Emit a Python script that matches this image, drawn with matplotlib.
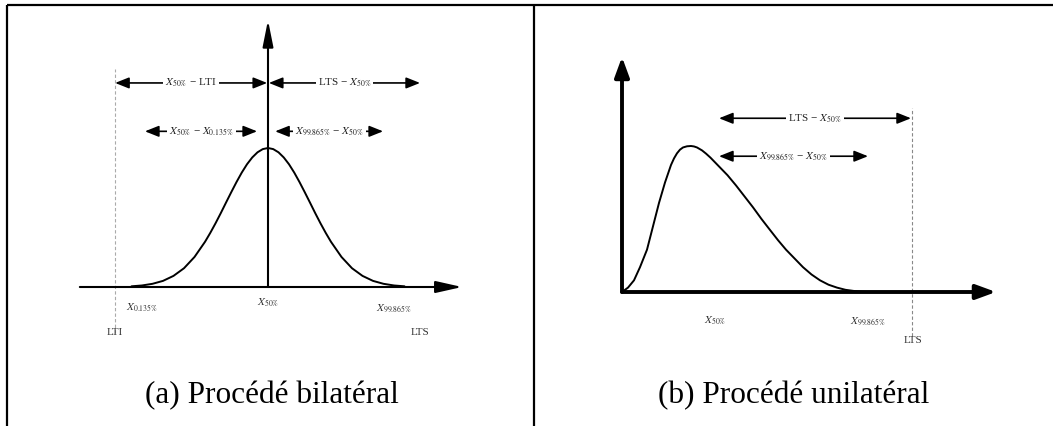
import matplotlib
matplotlib.use("Agg")
import matplotlib.pyplot as plt

plt.rcParams['mathtext.fontset'] = 'stix'
plt.rcParams['font.family'] = ['Liberation Serif', 'DejaVu Serif']

# ---------------- data ----------------
# (a) bilateral process: normal curve, x in sigma units, y relative height
gauss_x = [-3.25, -3.0, -2.75, -2.5, -2.25, -2.0, -1.75, -1.5, -1.375, -1.25, -1.125, -1.0, -0.875,
           -0.75, -0.625, -0.5, -0.375, -0.25, -0.125, 0.0, 0.125, 0.25, 0.375, 0.5, 0.625, 0.75,
           0.875, 1.0, 1.125, 1.25, 1.375, 1.5, 1.75, 2.0, 2.25, 2.5, 2.75, 3.0, 3.25]
gauss_y = [0.005, 0.011, 0.023, 0.044, 0.080, 0.135, 0.216, 0.325, 0.389, 0.458, 0.531, 0.607, 0.682,
           0.755, 0.823, 0.883, 0.932, 0.969, 0.992, 1.0, 0.992, 0.969, 0.932, 0.883, 0.823, 0.755,
           0.682, 0.607, 0.531, 0.458, 0.389, 0.325, 0.216, 0.135, 0.080, 0.044, 0.023, 0.011, 0.005]
a_lti, a_x0135, a_x50, a_x99865, a_lts = -3.64, -3.0, 0.0, 3.0, 3.62

# (b) unilateral process: skewed curve
skew_x = [0, 0.12, 0.24, 0.36, 0.5, 0.62, 0.74, 0.86, 0.98, 1.04, 1.1, 1.16, 1.22, 1.3, 1.38, 1.44,
          1.5, 1.6, 1.68, 1.77, 1.94, 2.11, 2.28, 2.45, 2.62, 2.79, 2.96, 3.12, 3.28, 3.45, 3.62,
          3.79, 3.96, 4.13, 4.3, 4.47, 4.64, 4.78, 4.92]
skew_y = [0, 0.03, 0.08, 0.17, 0.29, 0.45, 0.61, 0.75, 0.87, 0.915, 0.95, 0.975, 0.99, 0.998, 1.0, 0.997,
          0.99, 0.97, 0.948, 0.92, 0.86, 0.80, 0.73, 0.655, 0.58, 0.50, 0.425, 0.355, 0.29, 0.23, 0.17,
          0.12, 0.08, 0.05, 0.03, 0.015, 0.007, 0.002, 0.0]
b_x50, b_x99865, b_lts = 1.86, 4.92, 5.80

captions = ["(a) Procédé bilatéral", "(b) Procédé unilatéral"]

# ---------------- figure ----------------
W, H = 1053, 426
fig = plt.figure(figsize=(W / 100, H / 100), dpi=100)
fig.patch.set_facecolor('white')

frame = fig.add_axes([0, 0, 1, 1])
frame.set_xlim(0, W)
frame.set_ylim(H, 0)
frame.axis('off')
frame.plot([7, W], [5, 5], color='black', lw=1.6, solid_capstyle='butt')
frame.plot([7, 7], [5, H], color='black', lw=1.6, solid_capstyle='butt')
frame.plot([534, 534], [5, H], color='black', lw=1.6, solid_capstyle='butt')
frame.text(272, 403, captions[0], ha='center', va='baseline', fontsize=22.5,
           family='Liberation Serif')
frame.text(794, 403, captions[1], ha='center', va='baseline', fontsize=22.5,
           family='Liberation Serif')


def panel(box, origin, scale):
    px0, py0, px1, py1 = box
    ox, oy = origin
    sx, sy = scale
    ax = fig.add_axes([px0 / W, 1 - py1 / H, (px1 - px0) / W, (py1 - py0) / H])
    ax.set_xlim((px0 - ox) / sx, (px1 - ox) / sx)
    ax.set_ylim((oy - py1) / sy, (oy - py0) / sy)
    ax.axis('off')
    return ax


def axis_arrow(ax, x0, y0, x1, y1, lw, hl, hw):
    ax.annotate('', xy=(x1, y1), xytext=(x0, y0),
                arrowprops=dict(arrowstyle=f'-|>,head_length={hl},head_width={hw}',
                                mutation_scale=20, lw=lw, color='black',
                                shrinkA=0, shrinkB=0))


def dim(ax, x0, x1, y, label, lw=1.2, fs=8):
    ax.annotate('', xy=(x1, y), xytext=(x0, y),
                arrowprops=dict(arrowstyle='<|-|>,head_length=0.6,head_width=0.24',
                                mutation_scale=14, lw=lw, color='black',
                                shrinkA=0, shrinkB=0))
    ax.text((x0 + x1) / 2, y, label, ha='center', va='center', fontsize=fs, color='#222222',
            bbox=dict(facecolor='white', edgecolor='none', pad=1.5), zorder=5)


lab = dict(fontsize=8, color='#333333')

# ---------------- panel (a) ----------------
ax = panel((40, 10, 500, 360), (268, 287), (42, 139))
axis_arrow(ax, -4.48, 0, 4.62, 0, 1.5, 0.8, 0.18)
axis_arrow(ax, 0, 0, 0, 1.92, 1.5, 0.8, 0.16)
ax.plot(gauss_x, gauss_y, color='black', lw=1.4, solid_capstyle='round', solid_joinstyle='round')
ax.plot([a_lti, a_lti], [-0.33, 1.57], color='#aaaaaa', lw=0.8, ls=(0, (3, 2)))
ax.text(a_x0135, -0.15, r'$X_{0.135\%}$', ha='center', va='center', **lab)
ax.text(a_x50, -0.115, r'$X_{50\%}$', ha='center', va='center', **lab)
ax.text(a_x99865, -0.15, r'$X_{99.865\%}$', ha='center', va='center', **lab)
ax.text(a_lti, -0.33, 'LTI', ha='center', va='center', **lab)
ax.text(a_lts, -0.33, 'LTS', ha='center', va='center', **lab)
dim(ax, a_lti, a_x50 - 0.02, 1.468, r'$X_{50\%}$ − LTI')
dim(ax, a_x50 + 0.02, a_lts, 1.468, r'LTS − $X_{50\%}$')
dim(ax, a_x0135 + 0.07, a_x50 - 0.26, 1.12, r'$X_{50\%}$ − $X_{0.135\%}$')
dim(ax, a_x50 + 0.17, a_x99865 - 0.26, 1.12, r'$X_{99.865\%}$ − $X_{50\%}$')

# ---------------- panel (b) ----------------
bx = panel((560, 10, 1045, 360), (622, 292), (50, 146))
axis_arrow(bx, 0, 0, 7.48, 0, 2.8, 0.6, 0.22)
axis_arrow(bx, 0, 0, 0, 1.61, 2.8, 0.6, 0.22)
bx.plot(skew_x, skew_y, color='black', lw=1.4, solid_capstyle='round', solid_joinstyle='round')
bx.plot([b_lts, b_lts], [-0.30, 1.26], color='#888888', lw=0.8, ls=(0, (3, 2)))
bx.text(b_x50, -0.2, r'$X_{50\%}$', ha='center', va='center', **lab)
bx.text(b_x99865, -0.2, r'$X_{99.865\%}$', ha='center', va='center', **lab)
bx.text(b_lts + 0.02, -0.33, 'LTS', ha='center', va='center', **lab)
dim(bx, b_x50 + 0.08, b_lts - 0.02, 1.19, r'LTS − $X_{50\%}$')
dim(bx, b_x50 + 0.08, b_x99865, 0.93, r'$X_{99.865\%}$ − $X_{50\%}$')

fig.savefig('out.png', dpi=100, facecolor='white')
